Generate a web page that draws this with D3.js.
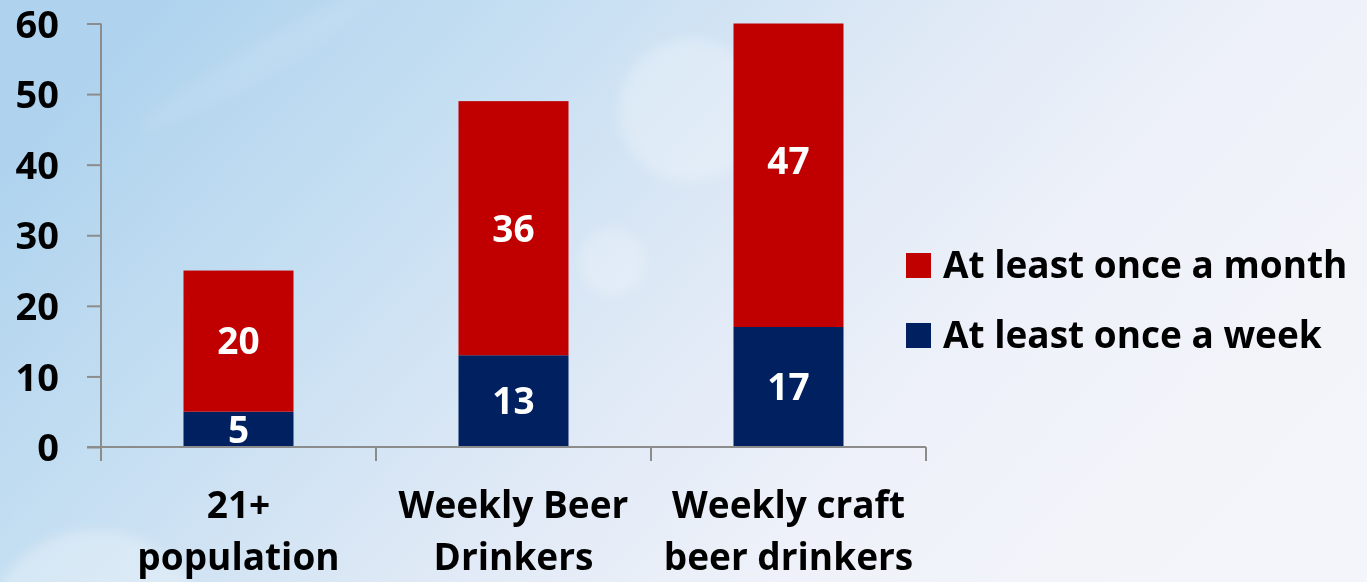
<!DOCTYPE html>
<html>
<head>
<meta charset="utf-8">
<script src="https://cdn.jsdelivr.net/npm/d3@7"></script>
<style>
  html, body { margin: 0; padding: 0; overflow: hidden; }
  svg { display: block; }
  text { font-family: "Open Sans", Lato, sans-serif; font-weight: 700; }
</style>
</head>
<body>
<script>
// Share of respondents by drinking frequency
const categories = [["21+", "population"], ["Weekly Beer", "Drinkers"], ["Weekly craft", "beer drinkers"]];
const weekly = [5, 13, 17];
const monthly = [20, 36, 47];
const seriesNames = ["At least once a month", "At least once a week"];
const yTicks = [0, 10, 20, 30, 40, 50, 60];

const W = 1367, H = 582;
const colors = { month: "#C00000", week: "#002060" };
const FS = 37;

const svg = d3.select("body").append("svg").attr("width", W).attr("height", H);
const defs = svg.append("defs");

// soft sky background
const bg = defs.append("linearGradient").attr("id", "bg")
  .attr("x1", "0").attr("y1", "0.3").attr("x2", "1").attr("y2", "0.7");
[["0", "#afd3ee"], ["0.25", "#c6dff2"], ["0.5", "#dfe9f6"], ["0.72", "#eef1f9"], ["1", "#f4f5fa"]]
  .forEach(([o, c]) => bg.append("stop").attr("offset", o).attr("stop-color", c));
svg.append("rect").attr("width", W).attr("height", H).attr("fill", "url(#bg)");

const blur = defs.append("filter").attr("id", "soft").attr("x", "-50%").attr("y", "-50%").attr("width", "200%").attr("height", "200%");
blur.append("feGaussianBlur").attr("stdDeviation", 6);
const haze = svg.append("g").attr("filter", "url(#soft)");
haze.append("circle").attr("cx", 690).attr("cy", 110).attr("r", 72).attr("fill", "#ffffff").attr("opacity", 0.25);
haze.append("circle").attr("cx", 612).attr("cy", 262).attr("r", 34).attr("fill", "#ffffff").attr("opacity", 0.22);
haze.append("circle").attr("cx", 95).attr("cy", 640).attr("r", 110).attr("fill", "#ffffff").attr("opacity", 0.28);
haze.append("ellipse").attr("cx", 260).attr("cy", 60).attr("rx", 140).attr("ry", 18)
  .attr("transform", "rotate(-30 260 60)").attr("fill", "#ffffff").attr("opacity", 0.08);

// scales
const x = d3.scaleBand().domain(d3.range(categories.length)).range([101, 926]).paddingInner(0.6).paddingOuter(0.3);
const y = d3.scaleLinear().domain([0, 60]).range([447, 23.5]);

const plotClip = defs.append("clipPath").attr("id", "plot");
plotClip.append("rect").attr("x", 101).attr("y", y(60)).attr("width", 825).attr("height", y(0) - y(60));

// stacked bars
const rows = categories.map((c, i) => ({ i, week: weekly[i], month: monthly[i] }));
const stack = d3.stack().keys(["week", "month"])(rows);

const bars = svg.append("g").attr("clip-path", "url(#plot)");
stack.forEach(layer => {
  bars.selectAll(null).data(layer).join("rect")
    .attr("x", d => x(d.data.i))
    .attr("width", x.bandwidth())
    .attr("y", d => y(d[1]))
    .attr("height", d => y(d[0]) - y(d[1]))
    .attr("fill", colors[layer.key]);
});

// value labels centred in each segment
const labels = svg.append("g").attr("fill", "#ffffff").attr("font-size", FS).attr("text-anchor", "middle");
stack.forEach(layer => {
  labels.selectAll(null).data(layer).join("text")
    .attr("x", d => x(d.data.i) + x.bandwidth() / 2)
    .attr("y", d => y((d[0] + d[1]) / 2))
    .attr("dy", "0.36em")
    .text(d => d.data[layer.key]);
});

// axes
const axisColor = "#8c8c8c";
const yAxis = svg.append("g").attr("transform", "translate(101,0)")
  .call(d3.axisLeft(y).tickValues(yTicks).tickSize(14).tickPadding(28));
yAxis.select(".domain").attr("stroke", axisColor).attr("stroke-width", 2).attr("d", `M0,${y(60)}V${y(0)}`);
yAxis.selectAll(".tick line").attr("stroke", axisColor).attr("stroke-width", 2);
yAxis.selectAll(".tick text").attr("fill", "#000").attr("font-size", 38)
  .attr("font-family", "'Open Sans', sans-serif").attr("font-weight", 700).attr("dy", "0.36em");

const xAxis = svg.append("g").attr("transform", `translate(0,${y(0)})`);
xAxis.append("line").attr("x1", 87).attr("x2", 926).attr("stroke", axisColor).attr("stroke-width", 2);
const bounds = d3.range(categories.length + 1).map(i => 101 + i * x.step());
xAxis.selectAll(".sep").data(bounds).join("line")
  .attr("x1", d => d).attr("x2", d => d).attr("y1", 0).attr("y2", 14)
  .attr("stroke", axisColor).attr("stroke-width", 2);

const catText = svg.append("g").attr("font-size", FS).attr("fill", "#000").attr("text-anchor", "middle");
categories.forEach((lines, i) => {
  const t = catText.append("text").attr("x", x(i) + x.bandwidth() / 2).attr("y", 518);
  lines.forEach((ln, k) => t.append("tspan").attr("x", x(i) + x.bandwidth() / 2).attr("dy", k ? 52 : 0).text(ln));
});

// legend
const legend = svg.append("g");
const legendItems = [
  { name: seriesNames[0], color: colors.month, y: 278 },
  { name: seriesNames[1], color: colors.week, y: 348 }
];
legendItems.forEach(d => {
  legend.append("rect").attr("x", 906).attr("y", d.y - 25).attr("width", 25).attr("height", 25).attr("fill", d.color);
  legend.append("text").attr("x", 943).attr("y", d.y).attr("font-size", FS).attr("fill", "#000").text(d.name);
});
</script>
</body>
</html>
